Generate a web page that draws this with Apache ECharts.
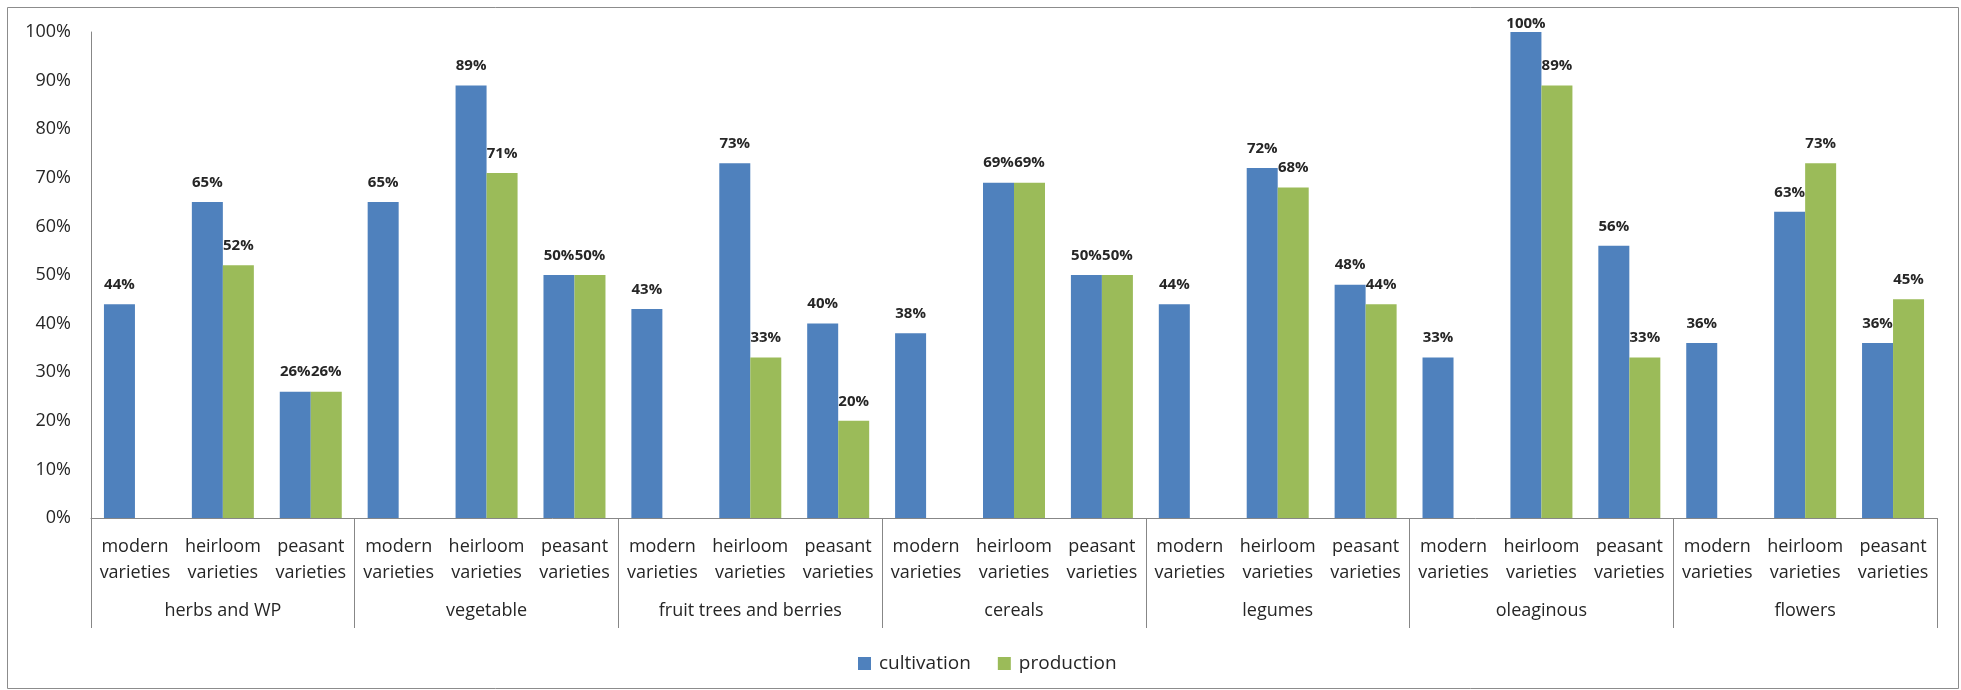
<!DOCTYPE html>
<html>
<head>
<meta charset="utf-8">
<style>
  html, body { margin: 0; padding: 0; background: #ffffff; }
  #chart { width: 1961px; height: 690px; }
</style>
<script src="https://cdn.jsdelivr.net/npm/echarts@6/dist/echarts.min.js"></script>
</head>
<body>
<div id="chart"></div>
<script>
// Crop groups and the three variety types shown under each group
const groups = ['herbs and WP', 'vegetable', 'fruit trees and berries', 'cereals', 'legumes', 'oleaginous', 'flowers'];
const varietyTypes = ['modern\nvarieties', 'heirloom\nvarieties', 'peasant\nvarieties'];

// Share of farms (%) per group, in order modern / heirloom / peasant
const cultivation = [
  44, 65, 26,
  65, 89, 50,
  43, 73, 40,
  38, 69, 50,
  44, 72, 48,
  33, 100, 56,
  36, 63, 36
];
const production = [
  null, 52, 26,
  null, 71, 50,
  null, 33, 20,
  null, 69, 50,
  null, 68, 44,
  null, 89, 33,
  null, 73, 45
];

const yTicks = { min: 0, max: 100, interval: 10 };

// One label per bar: every group repeats the three variety types
const categories = [];
groups.forEach(() => varietyTypes.forEach(v => categories.push(v)));

const FONT = 'Open Sans';
const AXIS_GRAY = '#878787';

const chart = echarts.init(document.getElementById('chart'));

const barLabel = {
  show: true,
  position: 'top',
  distance: 12,
  formatter: p => p.value + '%',
  fontFamily: FONT,
  fontWeight: 'bold',
  fontSize: 15,
  color: '#262626'
};

// A bar that reaches the top of the scale keeps its label tucked close to it
const withLabels = values => values.map(v =>
  v !== null && v >= yTicks.max ? { value: v, label: { distance: 1 } } : v
);

chart.setOption({
  animation: false,
  backgroundColor: '#ffffff',
  textStyle: { fontFamily: FONT },
  graphic: [{
    type: 'rect',
    shape: { x: 7.5, y: 7.5, width: 1951, height: 681 },
    style: { fill: 'none', stroke: '#8c8c8c', lineWidth: 1 },
    silent: true
  }],
  grid: { left: 91, right: 24, top: 32, bottom: 172, containLabel: false },
  legend: {
    left: 853,
    top: 649,
    itemWidth: 13,
    itemHeight: 13,
    itemGap: 27,
    icon: 'rect',
    textStyle: { fontFamily: FONT, fontSize: 19, color: '#262626', padding: [0, 0, 0, 3] },
    data: ['cultivation', 'production']
  },
  xAxis: [
    {
      type: 'category',
      data: categories,
      position: 'bottom',
      axisLine: { show: true, lineStyle: { color: AXIS_GRAY, width: 1 } },
      axisTick: { show: false },
      axisLabel: {
        interval: 0,
        margin: 16,
        fontFamily: FONT,
        fontSize: 18,
        lineHeight: 26,
        color: '#262626'
      }
    },
    {
      type: 'category',
      data: groups,
      position: 'bottom',
      axisLine: { show: false },
      axisTick: { show: true, interval: 0, length: 110, lineStyle: { color: AXIS_GRAY, width: 1 } },
      axisLabel: {
        interval: 0,
        margin: 84,
        fontFamily: FONT,
        fontSize: 18,
        color: '#262626'
      }
    }
  ],
  yAxis: {
    type: 'value',
    min: yTicks.min,
    max: yTicks.max,
    interval: yTicks.interval,
    axisLine: { show: true, lineStyle: { color: AXIS_GRAY, width: 1 } },
    axisTick: { show: false },
    splitLine: { show: false },
    axisLabel: {
      formatter: '{value}%',
      margin: 20,
      fontFamily: FONT,
      fontSize: 18,
      color: '#262626'
    }
  },
  series: [
    {
      name: 'cultivation',
      type: 'bar',
      xAxisIndex: 0,
      data: withLabels(cultivation),
      barWidth: 31,
      barGap: '0%',
      itemStyle: { color: '#4f81bd' },
      label: barLabel
    },
    {
      name: 'production',
      type: 'bar',
      xAxisIndex: 0,
      data: withLabels(production),
      barWidth: 31,
      barGap: '0%',
      itemStyle: { color: '#9bbb59' },
      label: barLabel
    }
  ]
});
</script>
</body>
</html>
